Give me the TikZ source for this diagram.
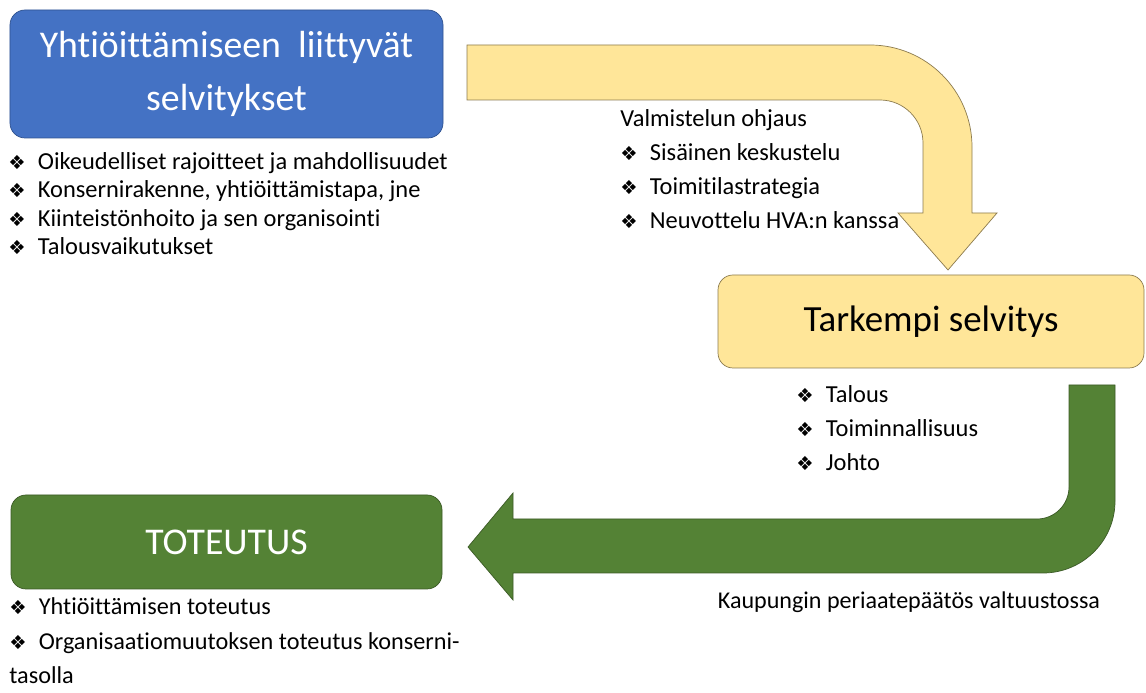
\documentclass[tikz,border=0pt]{standalone}
\usepackage{fontspec}
\setmainfont{Carlito}[Ligatures=NoCommon]
\newfontfamily\symfont{DejaVu Sans}
\usepackage{tikz}

\definecolor{boxblue}{HTML}{4472C4}
\definecolor{boxblueline}{HTML}{2F528F}
\definecolor{boxyellow}{HTML}{FFE699}
\definecolor{boxyellowline}{HTML}{8C7B4F}
\definecolor{boxgreen}{HTML}{548235}
\definecolor{boxgreenline}{HTML}{3B5A26}

\newcommand{\bul}{{\symfont\fontsize{11}{10}\selectfont\char"2756}\hspace{0.5em}}

\tikzset{
  stage/.style={rounded corners=0.3cm, minimum height=1.86cm, align=center, inner sep=0pt},
  list/.style={align=left, inner sep=0pt, font=\fontsize{13.9}{19.3}\selectfont},
}

\begin{document}
\begin{tikzpicture}
  \useasboundingbox (0,0) rectangle (22.92,13.86);

  % boxes
  \node[stage, fill=boxblue, draw=boxblueline, text=white, minimum width=8.66cm, minimum height=2.56cm,
        font=\fontsize{21.5}{30}\selectfont] (selvitykset) at (4.53,12.38) {Yhtiöittämiseen\ \ liittyvät\\selvitykset};
  \node[stage, fill=boxyellow, draw=boxyellowline, minimum width=8.52cm,
        font=\fontsize{21}{25}\selectfont] (tarkempi) at (18.62,7.43) {Tarkempi selvitys};
  \node[stage, fill=boxgreen, draw=boxgreenline, text=white, minimum width=8.62cm, minimum height=1.88cm,
        font=\fontsize{21.5}{25}\selectfont] (toteutus) at (4.53,3.02) {TOTEUTUS};

  % yellow bent arrow
  \draw[fill=boxyellow, draw=boxyellowline] (9.34,12.96) -- (17.4,12.96) arc (90:0:2.04) -- (19.44,9.6)
    -- (19.94,9.6) -- (18.96,8.46) -- (17.96,9.6) -- (18.46,9.6) -- (18.46,11.0) arc (0:90:0.86)
    -- (9.34,11.86) -- cycle;

  % green bent arrow
  \draw[fill=boxgreen, draw=boxgreenline] (21.38,6.16) -- (22.3,6.16) -- (22.3,3.84) arc (0:-90:1.44)
    -- (10.26,2.4) -- (10.26,1.86) -- (9.36,2.92) -- (10.26,4.0) -- (10.26,3.48) -- (20.74,3.48)
    arc (270:360:0.64) -- cycle;

  % texts
  \node[list, font=\fontsize{13.9}{16.2}\selectfont, anchor=west] (selvlist) at (0.16,9.79)
    {\bul Oikeudelliset rajoitteet ja mahdollisuudet\\
     \bul Konsernirakenne, yhtiöittämistapa, jne\\
     \bul Kiinteistönhoito ja sen organisointi\\
     \bul Talousvaikutukset};
  \node[list, anchor=west] (ohjaus) at (12.4,10.48)
    {Valmistelun ohjaus\\
     \bul Sisäinen keskustelu\\
     \bul Toimitilastrategia\\
     \bul Neuvottelu HVA:n kanssa};
  \node[list, anchor=west] (tarklist) at (15.92,5.3)
    {\bul Talous\\
     \bul Toiminnallisuus\\
     \bul Johto};
  \node[list, font=\fontsize{13.8}{19.6}\selectfont, anchor=west] (totlist) at (0.18,1.04)
    {\bul Yhtiöittämisen toteutus\\
     \bul Organisaatiomuutoksen toteutus konserni-\\
     tasolla};
  \node[list, font=\fontsize{13.7}{16}\selectfont] (paatos) at (18.18,1.82) {Kaupungin periaatepäätös valtuustossa};
\end{tikzpicture}
\end{document}
